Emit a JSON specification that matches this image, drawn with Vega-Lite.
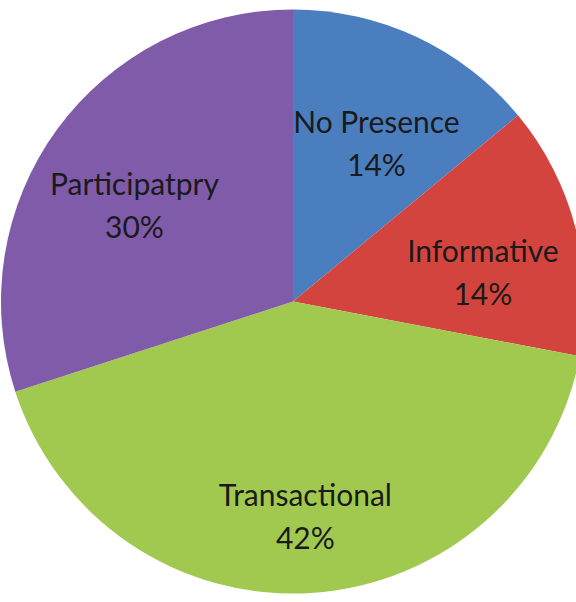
{
  "$schema": "https://vega.github.io/schema/vega-lite/v6.json",
  "width": 576,
  "height": 602,
  "autosize": {"type": "fit", "contains": "padding"},
  "padding": {"left": 10, "right": 0, "top": 1, "bottom": 0},
  "background": "white",
  "view": {"stroke": null},
  "data": {
    "values": [
      {"category": "No Presence", "value": 14, "order": 1},
      {"category": "Informative", "value": 14, "order": 2},
      {"category": "Transactional", "value": 42, "order": 3},
      {"category": "Participatpry", "value": 30, "order": 4}
    ]
  },
  "transform": [
    {"calculate": "datum.category + '\\n' + datum.value + '%'", "as": "label"}
  ],
  "encoding": {
    "theta": {"field": "value", "type": "quantitative", "stack": true},
    "order": {"field": "order", "type": "quantitative"},
    "color": {
      "field": "category",
      "type": "nominal",
      "scale": {
        "domain": ["No Presence", "Informative", "Transactional", "Participatpry"],
        "range": ["#4A7EBF", "#D4443E", "#A2C94F", "#805BAA"]
      },
      "legend": null
    }
  },
  "layer": [
    {"mark": {"type": "arc", "outerRadius": 292, "stroke": null}},
    {
      "mark": {
        "type": "text",
        "radius": 196,
        "font": "Lato",
        "fontSize": 30,
        "lineBreak": "\n",
        "lineHeight": 43,
        "baseline": "middle",
        "align": "center"
      },
      "encoding": {
        "text": {"field": "label", "type": "nominal"},
        "color": {"value": "#1a1a1a"}
      }
    }
  ]
}
